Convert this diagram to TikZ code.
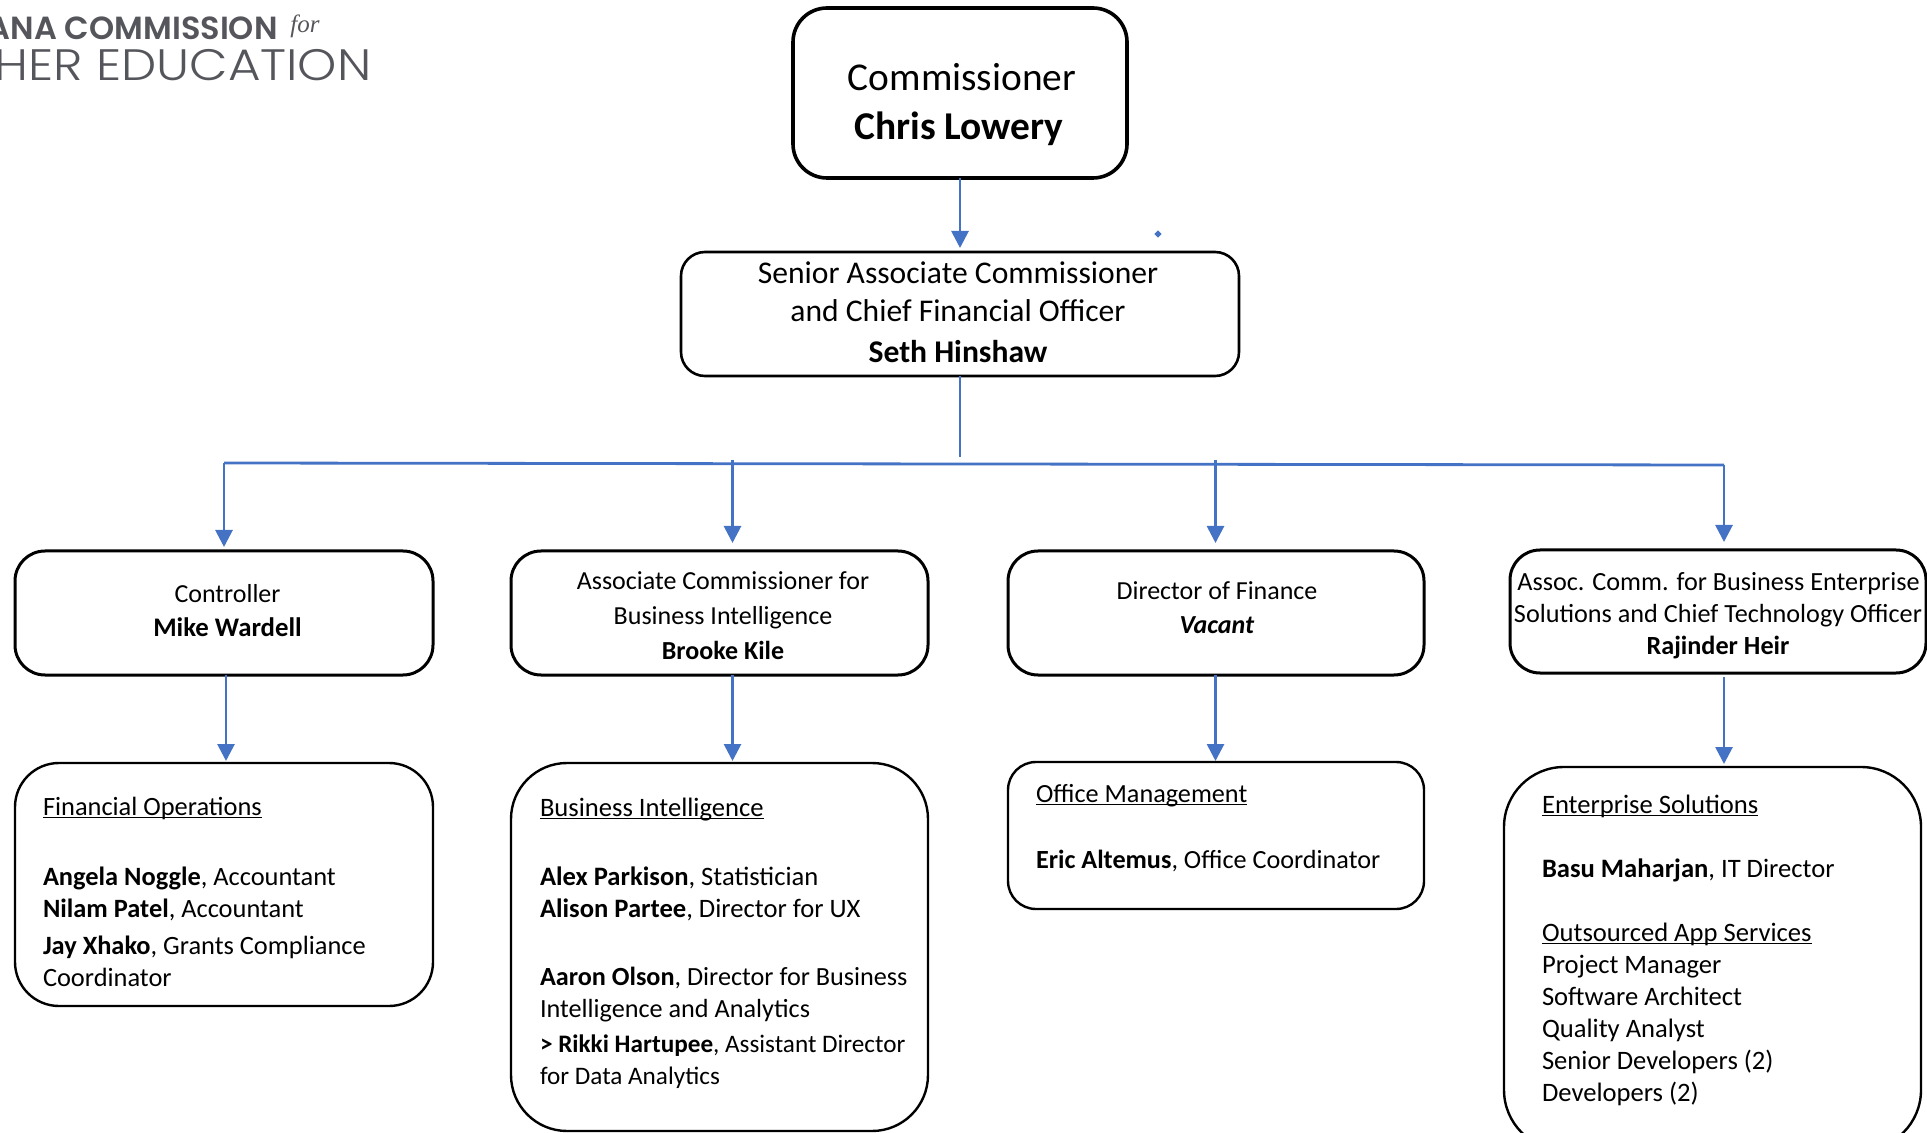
\documentclass[tikz,border=0pt]{standalone}
\usepackage{fontspec}
\usetikzlibrary{arrows.meta,calc}
\setmainfont{Carlito}
\newfontfamily\logobold{Poppins SemiBold}
\newfontfamily\logolight[FakeStretch=1.135]{Poppins Light}
\newfontfamily\logoserif{Liberation Serif}
\definecolor{conn}{HTML}{4472C4}
\definecolor{logotxt}{HTML}{55565B}
\newdimen\pxu \pxu=0.5pt
\newcommand\ul[1]{\leavevmode{\setbox0\hbox{#1}\rlap{\rule[-1.5pt]{\wd0}{0.55pt}}\box0}}
% #1 width, #2 height, #3 x shift, #4 top offset, #5 font size, #6 leading, #7 text
\newcommand\cbox[7]{\begin{minipage}[t][#2\pxu][t]{#1\pxu}\fontsize{#5}{#6}\selectfont\centering\vspace*{#4\pxu}\leavevmode\hspace*{#3\pxu}#7\par\end{minipage}}
\newcommand\lbox[7]{\begin{minipage}[t][#2\pxu][t]{#1\pxu}\fontsize{#5}{#6}\selectfont\raggedright\leftskip=#3\pxu\rightskip=0pt plus 1fil\vspace*{#4\pxu}\noindent #7\par\end{minipage}}
\tikzset{
  box/.style={draw=black,rounded corners=#1,inner sep=0pt,outer sep=0pt,anchor=north west},
  box/.default=15pt,
  conn/.style={draw=conn,line width=1.4pt},
  arrow/.style={conn,-{Triangle[length=8.5pt,width=8.5pt]},shorten >=#1},
  arrow/.default=2pt,
  logo/.style={text=logotxt,inner sep=0pt,anchor=base east}
}
\begin{document}
\begin{tikzpicture}[x=0.5pt,y=-0.5pt]
\useasboundingbox (0,0) rectangle (1927,1133);
% logo
\node[logo,font=\logobold\fontsize{16pt}{20pt}\selectfont] (logoA) at (278,40) {ANA COMMISSION};
\node[logo,font=\logoserif\itshape\fontsize{12.5pt}{14pt}\selectfont] (logoB) at (320,33) {for};
\node[logo,font=\logolight\fontsize{22pt}{24pt}\selectfont] (logoC) at (372,81) {HER EDUCATION};
% top
\node[box=17pt,line width=1.8pt] (comm) at (793,8) {\cbox{334}{170}{4}{55}{19.7pt}{24.5pt}{Commissioner\\\hspace*{-2\pxu}\textbf{Chris Lowery}}};
\node[box=12pt,line width=1.3pt] (senior) at (681,252) {\cbox{558}{124}{-4}{10}{15.8pt}{19pt}{Senior Associate Commissioner\\\hspace*{-4\pxu}and Chief Financial Officer\\[1.5pt]\hspace*{-4\pxu}\textbf{Seth Hinshaw}}};
% level 2
\node[box=15pt,line width=1.5pt] (ctrl) at (15,551) {\cbox{418}{124}{7}{33}{13pt}{17pt}{Controller\\\hspace*{7\pxu}\textbf{\fontsize{13.4pt}{17pt}\selectfont Mike Wardell}}};
\node[box=15pt,line width=1.5pt] (assoc) at (511,551) {\cbox{417}{124}{7}{21}{13pt}{17.5pt}{Associate Commissioner for\\\hspace*{7\pxu}Business Intelligence\\\hspace*{7\pxu}\textbf{Brooke Kile}}};
\node[box=15pt,line width=1.5pt] (dir) at (1008,551) {\cbox{416}{124}{2}{31}{13pt}{17pt}{Director of Finance\\\hspace*{2\pxu}\textbf{\textit{Vacant}}}};
\node[box=15pt,line width=1.5pt] (cto) at (1510,550) {\cbox{416}{123}{1}{22}{13.1pt}{16pt}{Assoc. Comm. for Business Enterprise\\Solutions and Chief Technology Officer\\\textbf{Rajinder Heir}}};
% level 3
\node[box=22pt,line width=1.2pt] (finops) at (15,763) {\lbox{418}{243}{28}{34}{13.2pt}{16pt}{\ul{Financial Operations}\\[19pt]\textbf{Angela Noggle}, Accountant\\\textbf{Nilam Patel}, Accountant\\[2.5pt]\textbf{Jay Xhako}, Grants Compliance\\Coordinator}};
\node[box=28pt,line width=1.2pt] (bi) at (511,763) {\lbox{417}{368}{29}{35}{13.3pt}{16pt}{\ul{Business Intelligence}\\[18.5pt]\textbf{Alex Parkison}, Statistician\\\textbf{Alison Partee}, Director for UX\\[18pt]{\fontsize{13.1pt}{16pt}\selectfont\textbf{Aaron Olson}, Director for Business}\\{\fontsize{13.1pt}{16pt}\selectfont Intelligence and Analytics}\\[1.5pt]{\fontsize{12.6pt}{16pt}\selectfont\textbf{> Rikki Hartupee}, Assistant Director}\\{\fontsize{12.6pt}{16pt}\selectfont for Data Analytics}}};
\node[box=14pt,line width=1.2pt] (office) at (1008,762) {\lbox{416}{147}{28}{22}{13.1pt}{16pt}{\ul{Office Management}\\[17pt]\textbf{Eric Altemus}, Office Coordinator}};
\node[box=30pt,line width=1.2pt] (ent) at (1504,767) {\lbox{417}{383}{38}{28}{13.3pt}{16pt}{\ul{Enterprise Solutions}\\[16pt]\textbf{Basu Maharjan}, IT Director\\[16pt]\ul{Outsourced App Services}\\Project Manager\\Software Architect\\Quality Analyst\\Senior Developers (2)\\Developers (2)}};
% connector coordinates
\coordinate (stemEnd) at (960,457);
\coordinate (busL) at (224,463);
\coordinate (busR) at (1724,465);
\coordinate (tapB) at (732.5,460);
\coordinate (tapD) at (1215.5,460);
\coordinate (ctrlOut) at (226,675);
\coordinate (ctoOut) at (1724,677);
\coordinate (dot) at (1158,234);
% connectors
\draw[arrow] (comm.south) -- (senior.north);
\draw[conn] (senior.south) -- (stemEnd);
\draw[conn] (busL) -- (busR);
\draw[arrow] (busL) -- (ctrl.north -| busL);
\draw[arrow=4pt] (tapB) -- (assoc.north -| tapB);
\draw[arrow=4pt] (tapD) -- (dir.north -| tapD);
\draw[arrow=4pt] (busR) -- (cto.north -| busR);
\draw[arrow=1pt] (ctrlOut) -- (finops.north -| ctrlOut);
\draw[arrow=1pt] (assoc.south -| tapB) -- (bi.north -| tapB);
\draw[arrow=0.5pt] (dir.south -| tapD) -- (office.north -| tapD);
\draw[arrow=1.5pt] (ctoOut) -- (ent.north -| ctoOut);
\fill[conn] (dot) circle (1.6);
\end{tikzpicture}
\end{document}
